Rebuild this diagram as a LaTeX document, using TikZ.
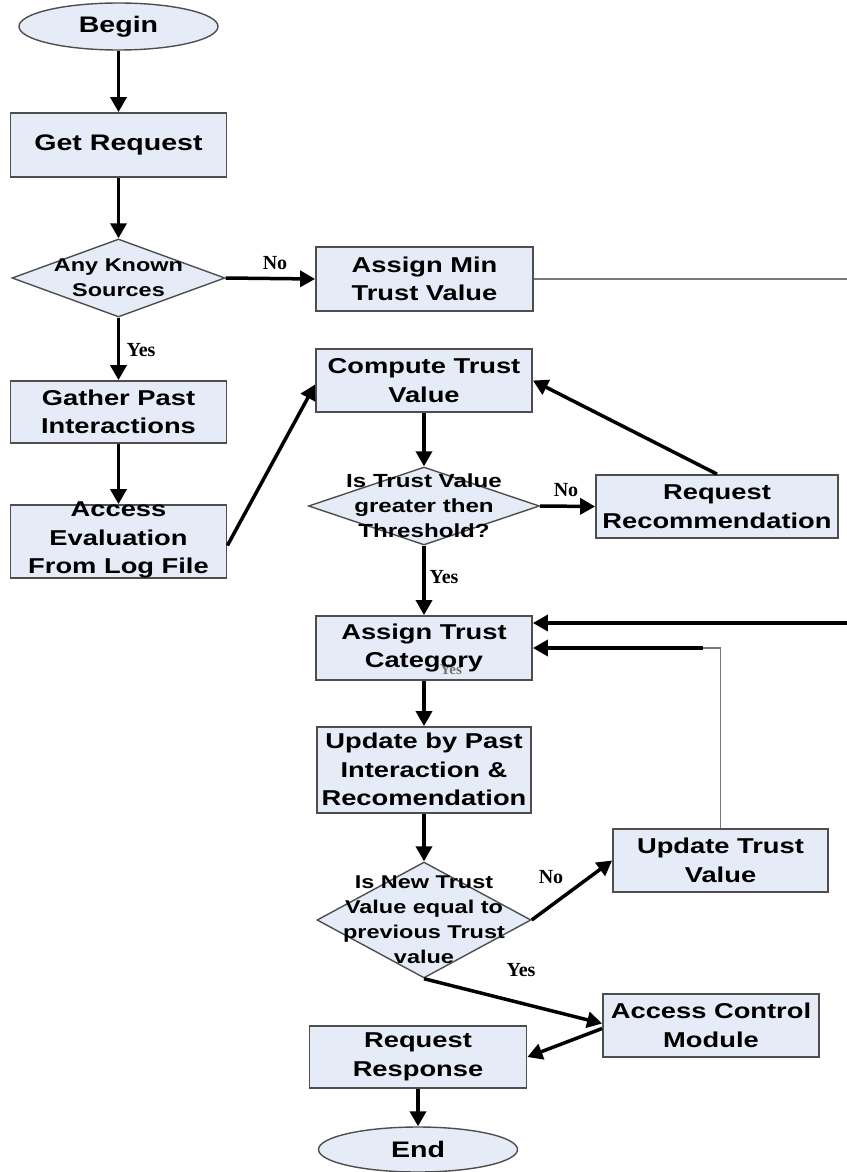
\documentclass[tikz,border=0pt]{standalone}
\usepackage{fontspec}
\usetikzlibrary{shapes.geometric,arrows.meta,calc}
\newfontfamily\flowfont{Liberation Sans}[FakeStretch=1.27]
\newfontfamily\tagfont{Liberation Serif}
\definecolor{boxfill}{RGB}{230,236,247}
\definecolor{boxline}{RGB}{78,78,78}
\definecolor{thinline}{RGB}{120,120,120}

\begin{document}
\begin{tikzpicture}[x=1pt,y=-1pt,
  box/.style={draw=boxline, fill=boxfill, line width=1.8pt, rectangle, inner sep=0pt},
  term/.style={draw=boxline, fill=boxfill, line width=1.4pt, ellipse, inner sep=0pt},
  dec/.style={draw=boxline, fill=boxfill, line width=1.4pt, diamond, inner sep=0pt},
  bigtext/.style={font={\fontsize{22.5}{28.5}\flowfont\bfseries}, align=center, inner sep=0pt},
  boxtext/.style={font={\fontsize{21.5}{28.5}\flowfont\bfseries}, align=center, inner sep=0pt},
  dectext/.style={font={\fontsize{#1}{25}\flowfont\bfseries}, align=center, inner sep=0pt},
  tag/.style={font={\fontsize{20}{20}\tagfont\bfseries}, inner sep=0pt},
  flow/.style={line width=3.5pt, -{Triangle[length=15pt,width=16pt]}},
  thinl/.style={draw=thinline, line width=1.5pt}
]
\fill[white] (0,0) rectangle (846,1172);
\useasboundingbox (0,0) rectangle (846,1172);

% ---- left column
\node[term, minimum width=199pt, minimum height=47pt] (begin) at (118.5,26.5) {};
\node[bigtext] (begint) at (begin) {Begin};
\node[box, minimum width=216pt, minimum height=64pt] (getreq) at (118.5,145) {};
\node[bigtext] (getreqt) at (getreq) {Get Request};
\node[dec, minimum width=213pt, minimum height=78pt] (known) at (118.5,278) {};
\node[dectext=18.5] (knownt) at (118.5,278) {Any Known\\Sources};
\node[box, minimum width=216pt, minimum height=62pt] (gather) at (118.5,412) {};
\node[boxtext] (gathert) at (gather) {Gather Past\\Interactions};
\node[box, minimum width=216pt, minimum height=73pt] (logfile) at (118.5,541.5) {};
\node[boxtext] (logfilet) at (118.5,540) {Access\\Evaluation\\From Log File};

% ---- middle column
\node[box, minimum width=217pt, minimum height=64pt] (minval) at (424.5,279) {};
\node[boxtext] (minvalt) at (minval) {Assign Min\\Trust Value};
\node[box, minimum width=216pt, minimum height=63pt] (compute) at (424,380.5) {};
\node[boxtext] (computet) at (compute) {Compute Trust\\Value};
\node[dec, minimum width=231pt, minimum height=78pt] (thresh) at (424,506) {};
\node[dectext=19] (thresht) at (424,506) {Is Trust Value\\greater then\\Threshold?};
\node[box, minimum width=216pt, minimum height=64pt] (category) at (424,648) {};
\node[tag, text=black!55, font={\fontsize{15}{15}\tagfont\bfseries}] (catyes) at (451,670) {Yes};
\node[boxtext] (categoryt) at (category) {Assign Trust\\Category};
\node[box, minimum width=214pt, minimum height=86pt] (update) at (424,770) {};
\node[boxtext] (updatet) at (424,769.5) {Update by Past\\Interaction \&\\Recomendation};
\node[dec, minimum width=214pt, minimum height=116pt] (same) at (424,920) {};
\node[dectext=18.5] (samet) at (424,919.5) {Is New Trust\\Value equal to\\previous Trust\\value};
\node[box, minimum width=217pt, minimum height=62pt] (response) at (418,1057) {};
\node[boxtext] (responset) at (response) {Request\\Response};
\node[term, minimum width=199pt, minimum height=45pt] (end) at (418,1149.5) {};
\node[bigtext] (endt) at (end) {End};

% ---- right column
\node[box, minimum width=242pt, minimum height=63pt] (recomm) at (717,506.5) {};
\node[boxtext] (recommt) at (recomm) {Request\\Recommendation};
\node[box, minimum width=215pt, minimum height=63pt] (newval) at (720.5,860.5) {};
\node[boxtext] (newvalt) at (newval) {Update Trust\\Value};
\node[box, minimum width=216pt, minimum height=63pt] (acm) at (711,1025.5) {};
\node[boxtext] (acmt) at (acm) {Access Control\\Module};

% ---- branch labels
\node[tag] (no1) at (275,263) {No};
\node[tag] (yes1) at (141,350) {Yes};
\node[tag] (no2) at (566,490) {No};
\node[tag] (yes2) at (444,577) {Yes};
\node[tag] (no3) at (551,877) {No};
\node[tag] (yes3) at (521,970) {Yes};

% ---- off-page ends of the long connectors
\coordinate (minout) at (850,279);
\coordinate (catin) at (850,623);
\coordinate (fbjoin) at (703,648);

% ---- connectors
\draw[flow] (begin.south) -- (getreq.north);
\draw[flow] (getreq.south) -- (known.north);
\draw[flow] (known.east) -- (minval.west);
\draw[flow] (known.south) -- (gather.north);
\draw[flow] (gather.south) -- (logfile.north);
\draw[flow] ($(logfile.east)+(0,4)$) -- ($(compute.west)+(0,4)$);
\draw[flow] (compute.south) -- (thresh.north);
\draw[flow] (thresh.east) -- (recomm.west);
\draw[flow] (recomm.north) -- (compute.east);
\draw[flow] (thresh.south) -- (category.north);
\draw[thinl] (minval.east) -- (minout);
\draw[flow] (catin) -- ($(category.east)+(0,-25)$);
\draw[thinl] (newval.north) |- (fbjoin);
\draw[flow] (fbjoin) -- (category.east);
\draw[flow] (category.south) -- (update.north);
\draw[flow] (update.south) -- (same.north);
\draw[flow] (same.east) -- (newval.west);
\draw[flow] (same.south) -- ($(acm.west)+(0,-2)$);
\draw[flow] ($(acm.west)+(0,3)$) -- (response.east);
\draw[flow] (response.south) -- (end.north);
\end{tikzpicture}
\end{document}
